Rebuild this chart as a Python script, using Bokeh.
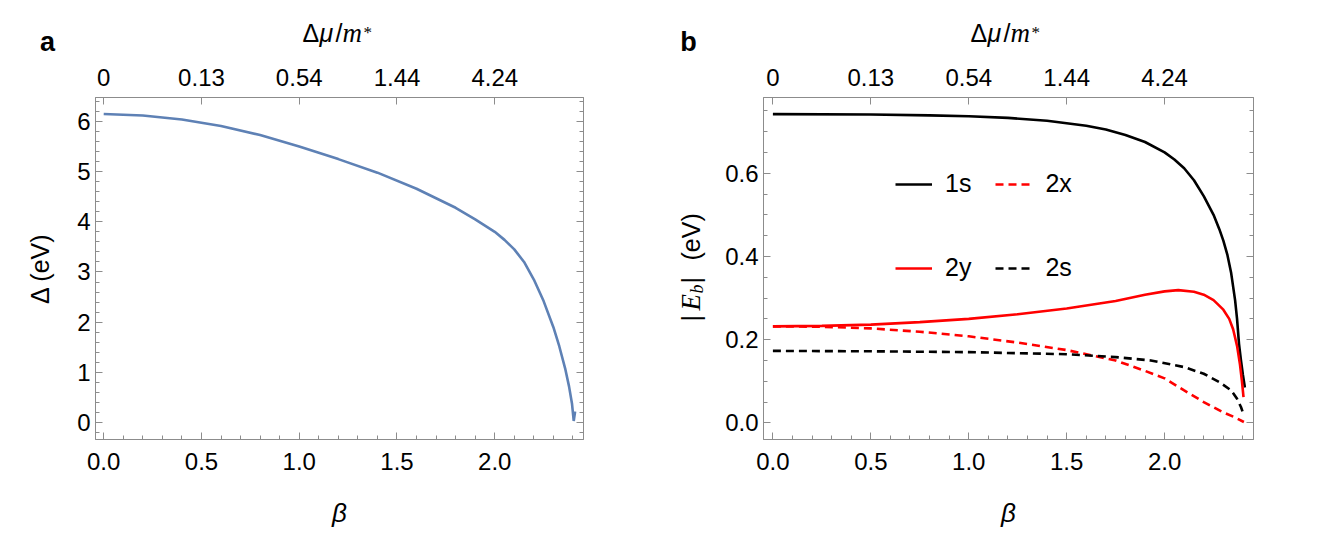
import numpy as np
from bokeh.plotting import figure
from bokeh.models import (Range1d, LinearAxis, SingleIntervalTicker, FixedTicker,
                          PrintfTickFormatter, CustomJSTickFormatter, Label, Legend, LegendItem)
from bokeh.layouts import row, column
from bokeh.embed import file_html
from bokeh.resources import INLINE

# ---------------- data ----------------
# panel a : gap Delta (eV) versus beta
beta_a = [0.0, 0.2, 0.4, 0.6, 0.8, 1.0, 1.2, 1.4, 1.6, 1.8, 1.9, 2.0, 2.05, 2.1, 2.15, 2.2,
          2.25, 2.3, 2.33, 2.36, 2.38, 2.395, 2.404, 2.411]
gap_a = [6.15, 6.12, 6.04, 5.91, 5.73, 5.50, 5.25, 4.98, 4.66, 4.28, 4.05, 3.80, 3.64, 3.45, 3.20, 2.85,
         2.42, 1.90, 1.52, 1.08, 0.72, 0.38, 0.03, 0.22]

# top axis tick labels (Delta mu / m*) at beta positions
top_tick_beta = [0.0, 0.5, 1.0, 1.5, 2.0]
top_tick_labels = ["0", "0.13", "0.54", "1.44", "4.24"]

# panel b : |E_b| (eV) versus beta
beta_1s = [0.0, 0.5, 0.8, 1.0, 1.2, 1.4, 1.6, 1.7, 1.8, 1.9, 2.0, 2.05, 2.1, 2.15, 2.2, 2.25,
           2.28, 2.3, 2.32, 2.34, 2.36, 2.37, 2.38, 2.39, 2.40, 2.41]
eb_1s = [0.742, 0.741, 0.739, 0.737, 0.733, 0.726, 0.714, 0.705, 0.692, 0.675, 0.650, 0.633, 0.612, 0.583, 0.545, 0.500,
         0.465, 0.438, 0.405, 0.360, 0.295, 0.250, 0.190, 0.150, 0.115, 0.085]

beta_2y = [0.0, 0.25, 0.5, 0.75, 1.0, 1.25, 1.5, 1.75, 1.9, 2.0, 2.07, 2.15, 2.2, 2.25, 2.3,
           2.33, 2.35, 2.37, 2.385, 2.395, 2.403]
eb_2y = [0.232, 0.233, 0.236, 0.242, 0.250, 0.261, 0.275, 0.293, 0.308, 0.316, 0.319, 0.315, 0.308, 0.295, 0.272,
         0.250, 0.225, 0.185, 0.140, 0.100, 0.062]

beta_2x = [0.0, 0.25, 0.5, 0.75, 1.0, 1.25, 1.5, 1.75, 1.9, 2.0, 2.1, 2.2, 2.3, 2.36, 2.405]
eb_2x = [0.232, 0.231, 0.227, 0.219, 0.208, 0.193, 0.175, 0.150, 0.125, 0.107, 0.078, 0.050, 0.025, 0.013, 0.002]

beta_2s = [0.0, 0.5, 1.0, 1.5, 1.75, 1.93, 2.1, 2.2, 2.28, 2.34, 2.37, 2.39, 2.405]
eb_2s = [0.173, 0.172, 0.170, 0.165, 0.158, 0.150, 0.134, 0.118, 0.098, 0.078, 0.058, 0.038, 0.018]

legend_labels = ["1s", "2x", "2y", "2s"]

# ---------------- styling helpers ----------------
GRAY = "#8c8c8c"
FONT = "Liberation Sans"
SERIF = "Liberation Serif"
TICK_FS = "24px"
LABEL_FS = "25px"


def style_axis(ax):
    ax.axis_line_color = GRAY
    ax.major_tick_line_color = GRAY
    ax.minor_tick_line_color = GRAY
    ax.major_tick_in = 7
    ax.major_tick_out = 0
    ax.minor_tick_in = 4
    ax.minor_tick_out = 0
    ax.major_label_text_font = FONT
    ax.major_label_text_font_size = TICK_FS
    ax.major_label_text_color = "black"
    ax.axis_label_text_font = FONT
    ax.axis_label_text_font_size = LABEL_FS
    ax.axis_label_text_font_style = "normal"
    ax.axis_label_text_color = "black"


top_formatter = CustomJSTickFormatter(
    args=dict(pos=top_tick_beta, lab=top_tick_labels),
    code="""
    for (let i = 0; i < pos.length; i++) {
        if (Math.abs(pos[i] - tick) < 1e-6) { return lab[i]; }
    }
    return '';
    """)
empty_formatter = CustomJSTickFormatter(code="return '';")


def make_fig(width, left, right, xr, yr, y_interval, y_minor, y_fmt):
    p = figure(width=width, height=484, x_range=Range1d(*xr), y_range=Range1d(*yr),
               output_backend="svg", toolbar_location=None, title=None,
               x_axis_location=None, y_axis_location=None,
               min_border_left=left, min_border_right=right,
               min_border_top=42, min_border_bottom=100)
    p.outline_line_color = GRAY
    p.xgrid.visible = False
    p.ygrid.visible = False

    xb = LinearAxis(ticker=SingleIntervalTicker(interval=0.5, num_minor_ticks=5),
                    formatter=PrintfTickFormatter(format="%.1f"), axis_label="β")
    style_axis(xb)
    xb.axis_label_text_font_style = "italic"
    xb.axis_label_text_font_size = "26px"
    xb.major_label_standoff = 13
    xb.axis_label_standoff = 25
    p.add_layout(xb, "below")

    xt = LinearAxis(ticker=FixedTicker(ticks=top_tick_beta, minor_ticks=[]),
                    formatter=top_formatter)
    style_axis(xt)
    xt.major_label_standoff = 12
    p.add_layout(xt, "above")

    yl = LinearAxis(ticker=SingleIntervalTicker(interval=y_interval, num_minor_ticks=y_minor),
                    formatter=PrintfTickFormatter(format=y_fmt))
    style_axis(yl)
    yl.major_label_standoff = 5
    p.add_layout(yl, "left")

    yr_ax = LinearAxis(ticker=SingleIntervalTicker(interval=y_interval, num_minor_ticks=y_minor),
                       formatter=empty_formatter)
    style_axis(yr_ax)
    yr_ax.major_label_standoff = 0
    p.add_layout(yr_ax, "right")
    return p, yl


def text_canvas(width, height):
    t = figure(width=width, height=height, x_range=Range1d(0, 1), y_range=Range1d(0, 1),
               output_backend="svg", toolbar_location=None, title=None,
               x_axis_location=None, y_axis_location=None, min_border=0)
    t.outline_line_color = None
    t.xgrid.visible = False
    t.ygrid.visible = False
    return t


def lab(fig, txt, x, y, font=FONT, style="normal", size="25px", align="left",
        baseline="middle", angle=0.0):
    fig.add_layout(Label(x=x, y=y, x_units="screen", y_units="screen", text=txt, angle=angle,
                         text_font=font, text_font_style=style, text_font_size=size,
                         text_align=align, text_baseline=baseline, text_color="black"))


# ---------------- panel a ----------------
pa, yla = make_fig(640, 95, 57, (-0.042, 2.454), (-0.339, 6.478), 1, 5, "%d")
yla.axis_label = "Δ (eV)"
yla.axis_label_standoff = 20
pa.line(beta_a, gap_a, line_color="#5E81B5", line_width=2.6)

# ---------------- panel b ----------------
pb, ylb = make_fig(619, 53, 76, (-0.048, 2.454), (-0.040, 0.782), 0.2, 4, "%.1f")
r1s = pb.line(beta_1s, eb_1s, line_color="black", line_width=2.6)
r2y = pb.line(beta_2y, eb_2y, line_color="#ff0000", line_width=2.6)
r2x = pb.line(beta_2x, eb_2x, line_color="#ff0000", line_width=2.6, line_dash="8 5")
r2s = pb.line(beta_2s, eb_2s, line_color="black", line_width=2.6, line_dash="8 5")


def make_legend(items, x, y):
    leg = Legend(items=items, location=(x, y), orientation="horizontal",
                 glyph_width=37, glyph_height=20, label_standoff=13, spacing=24,
                 padding=0, margin=0, border_line_color=None, background_fill_alpha=0,
                 label_text_font=FONT, label_text_font_size="25px", label_text_color="black")
    pb.add_layout(leg, "center")


make_legend([LegendItem(label=legend_labels[0], renderers=[r1s]),
             LegendItem(label=legend_labels[1], renderers=[r2x])], 132, 241)
make_legend([LegendItem(label=legend_labels[2], renderers=[r2y]),
             LegendItem(label=legend_labels[3], renderers=[r2s])], 132, 157)

# ---------------- text strip on top (panel letters and top axis titles) ----------------
strip = text_canvas(1329, 55)
lab(strip, "a", 47, 14, style="bold", size="27px", align="center")
lab(strip, "b", 688, 14, style="bold", size="27px", align="center")
for x0 in (302, 970):
    lab(strip, "Δ", x0, 23)
    lab(strip, "μ", x0 + 17, 23, style="italic")
    lab(strip, "/", x0 + 33, 23)
    lab(strip, "m", x0 + 40, 23, font=SERIF, style="italic", size="27px")
    lab(strip, "*", x0 + 61, 33, font=SERIF, size="17px", baseline="top")

# ---------------- text column between panels: |E_b| (eV) ----------------
mid = text_canvas(70, 484)
ang = np.pi / 2
lab(mid, "|", 50, 118, angle=ang)
lab(mid, "E", 50, 129, font=SERIF, style="italic", size="27px", angle=ang)
lab(mid, "b", 56, 146, font=SERIF, style="italic", size="18px", angle=ang)
lab(mid, "|", 50, 156, angle=ang)
lab(mid, "(eV)", 50, 179, angle=ang)

layout = column(strip, row(pa, mid, pb))
open("out.html", "w").write(file_html(layout, INLINE))
